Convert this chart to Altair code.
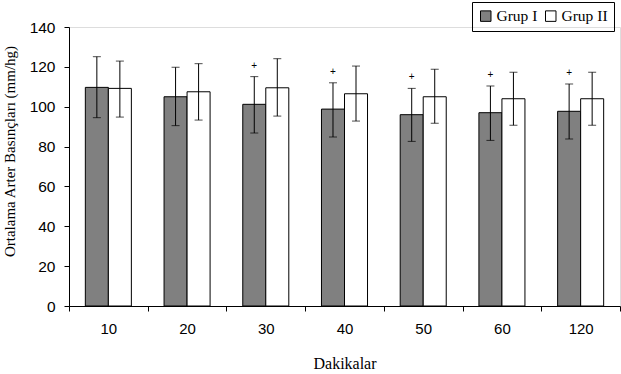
import altair as alt
import pandas as pd

minutes = ["10", "20", "30", "40", "50", "60", "120"]
groups = ["Grup I", "Grup II"]
grup1_mean = [109.7, 105.0, 101.2, 98.8, 96.0, 97.0, 97.7]
grup1_upper = [125.1, 119.8, 115.1, 112.0, 109.2, 110.4, 111.4]
grup1_lower = [94.5, 90.5, 86.8, 84.8, 82.6, 83.1, 83.8]
grup2_mean = [109.2, 107.5, 109.5, 106.5, 105.0, 104.0, 104.0]
grup2_upper = [122.9, 121.6, 124.1, 120.4, 118.8, 117.3, 117.3]
grup2_lower = [94.8, 93.3, 95.3, 92.8, 91.7, 90.7, 90.7]
grup1_sig = ["", "", "+", "+", "+", "+", "+"]
y_ticks = [0, 20, 40, 60, 80, 100, 120, 140]

rows = []
for i, m in enumerate(minutes):
    rows.append({"dk": m, "grup": "Grup I", "mean": grup1_mean[i],
                 "upper": grup1_upper[i], "lower": grup1_lower[i], "sig": grup1_sig[i]})
    rows.append({"dk": m, "grup": "Grup II", "mean": grup2_mean[i],
                 "upper": grup2_upper[i], "lower": grup2_lower[i], "sig": ""})
df = pd.DataFrame(rows)

serif = "Liberation Serif"
sans = "Liberation Sans"

x = alt.X("dk:N", sort=minutes,
          scale=alt.Scale(paddingInner=0, paddingOuter=0),
          axis=alt.Axis(title="Dakikalar", labelAngle=0, tickBand="extent",
                        labelFont=sans, labelFontSize=15, labelColor="black",
                        labelPadding=10, tickSize=5, tickColor="black",
                        domainColor="black", titleFont=serif, titleFontSize=16,
                        titleFontWeight="normal", titleColor="black",
                        titlePadding=19, grid=False))
xo = alt.XOffset("grup:N", sort=groups,
                 scale=alt.Scale(paddingInner=0, paddingOuter=0.71))
y_scale = alt.Scale(domain=[0, 140], nice=False)
y_axis = alt.Axis(title="Ortalama Arter Basınçları (mm/hg)",
                  values=y_ticks, labelOverlap=False,
                  labelFont=sans, labelFontSize=15.5, labelColor="black",
                  tickSize=5, tickColor="black", domainColor="black",
                  labelPadding=9, grid=False,
                  titleFont=serif, titleFontSize=15,
                  titleFontWeight="normal", titleColor="black",
                  titleX=-52, titleY=124, titleAlign="center")

bars = alt.Chart(df).mark_bar(stroke="black", strokeWidth=1).encode(
    x=x,
    xOffset=xo,
    y=alt.Y("mean:Q", scale=y_scale, axis=y_axis),
    color=alt.Color("grup:N", sort=groups,
                    scale=alt.Scale(domain=groups, range=["#808080", "#ffffff"]),
                    legend=alt.Legend(title=None, orient="none", direction="horizontal",
                                      legendX=403, legendY=-25,
                                      strokeColor="black", padding=6,
                                      symbolType="square", symbolSize=110,
                                      symbolStrokeColor="black", symbolStrokeWidth=1,
                                      labelFont=serif, labelFontSize=15.5,
                                      labelColor="black", columnPadding=5,
                                      labelOffset=3)),
)

err = alt.Chart(df).mark_rule(color="black", strokeWidth=1).encode(
    x=x, xOffset=xo,
    y=alt.Y("lower:Q", scale=y_scale, axis=y_axis),
    y2="upper:Q",
)
cap_top = alt.Chart(df).mark_tick(color="black", size=8, thickness=1).encode(
    x=x, xOffset=xo, y=alt.Y("upper:Q", scale=y_scale, axis=y_axis),
)
cap_bot = alt.Chart(df).mark_tick(color="black", size=8, thickness=1).encode(
    x=x, xOffset=xo, y=alt.Y("lower:Q", scale=y_scale, axis=y_axis),
)
plus = alt.Chart(df).mark_text(fontSize=10, color="black",
                               dy=-11, baseline="middle", font=sans).encode(
    x=x, xOffset=xo, y=alt.Y("upper:Q", scale=y_scale, axis=y_axis), text="sig:N",
)

chart = alt.layer(bars, err, cap_top, cap_bot, plus).properties(
    width=551, height=279,
    autosize=alt.AutoSizeParams(type="none"),
    padding={"left": 69, "top": 27, "right": 1, "bottom": 68},
).configure_view(stroke=None).configure(background="white")

chart.save("out.html", embed_options={"renderer": "svg", "actions": False})
